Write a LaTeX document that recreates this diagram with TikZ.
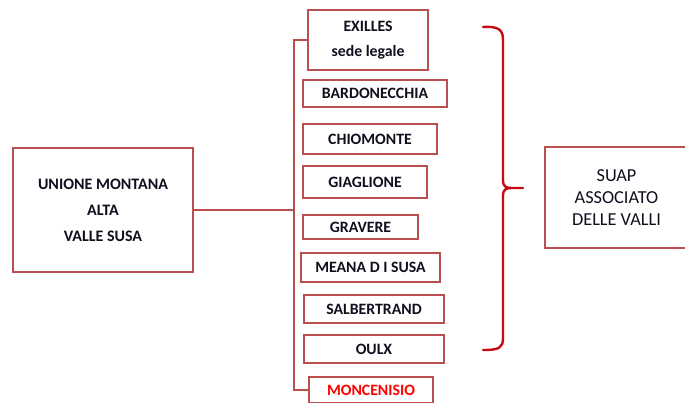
\documentclass[tikz,border=0pt]{standalone}
\usepackage{fontspec}
\setmainfont{Carlito}
\definecolor{boxred}{RGB}{185,80,77}
\definecolor{bracered}{RGB}{200,10,20}
\definecolor{txt}{RGB}{15,15,30}
\begin{document}
\begin{tikzpicture}[x=1pt,y=-1pt,
  box/.style={draw=boxred,line width=2.8pt,inner sep=0pt,align=center,text=txt,
    font=\bfseries\fontsize{15.8}{25}\selectfont},
  link/.style={draw=boxred,line width=2.8pt}]
\useasboundingbox (0,0) rectangle (685,402);
\clip (0,0) rectangle (685,402);
\node[box,minimum width=180pt,minimum height=124pt,font=\bfseries\fontsize{16}{26}\selectfont] (um) at (103,210) {UNIONE MONTANA\\ALTA\\VALLE SUSA};
\node[box,minimum width=120pt,minimum height=60pt] (exilles) at (368,40) {EXILLES\\sede legale};
\node[box,minimum width=144pt,minimum height=27pt] (bard) at (375,93.5) {BARDONECCHIA};
\node[box,minimum width=134pt,minimum height=30pt] (chio) at (370,139) {CHIOMONTE};
\node[box,minimum width=124pt,minimum height=32pt] (giag) at (365,182) {GIAGLIONE};
\node[box,minimum width=115pt,minimum height=24pt] (grav) at (360.5,227) {GRAVERE};
\node[box,minimum width=139pt,minimum height=29pt] (meana) at (370.5,267.5) {MEANA D I SUSA};
\node[box,minimum width=140pt,minimum height=28pt] (salb) at (374,309) {SALBERTRAND};
\node[box,minimum width=140pt,minimum height=28pt] (oulx) at (374,349) {OULX};
\node[box,minimum width=124pt,minimum height=26pt,text=red] (monc) at (371,390) {MONCENISIO};
\node[box,minimum width=143pt,minimum height=101pt,font=\fontsize{18.3}{22}\selectfont] (suap) at (616.5,197.5) {SUAP\\ASSOCIATO\\DELLE VALLI};
\coordinate (trunk) at (294,210);
\draw[link] (exilles.west) -| (trunk) |- (monc.west);
\draw[link] (um.east) -- (um.east -| trunk);
% brace
\coordinate (tip) at (523,188);
\draw[bracered,line width=2.4pt,line cap=round,line join=round]
  (483,27) .. controls (499,26) and (503,30) .. (503,40) -- (503,181)
  .. controls (503,186) and (506,188) .. (511,188) -- (tip);
\draw[bracered,line width=2.4pt,line cap=round,line join=round]
  (511,188) .. controls (506,188) and (503,190) .. (503,195) -- (503,338)
  .. controls (503,348) and (499,350) .. (483,350);
\end{tikzpicture}
\end{document}
